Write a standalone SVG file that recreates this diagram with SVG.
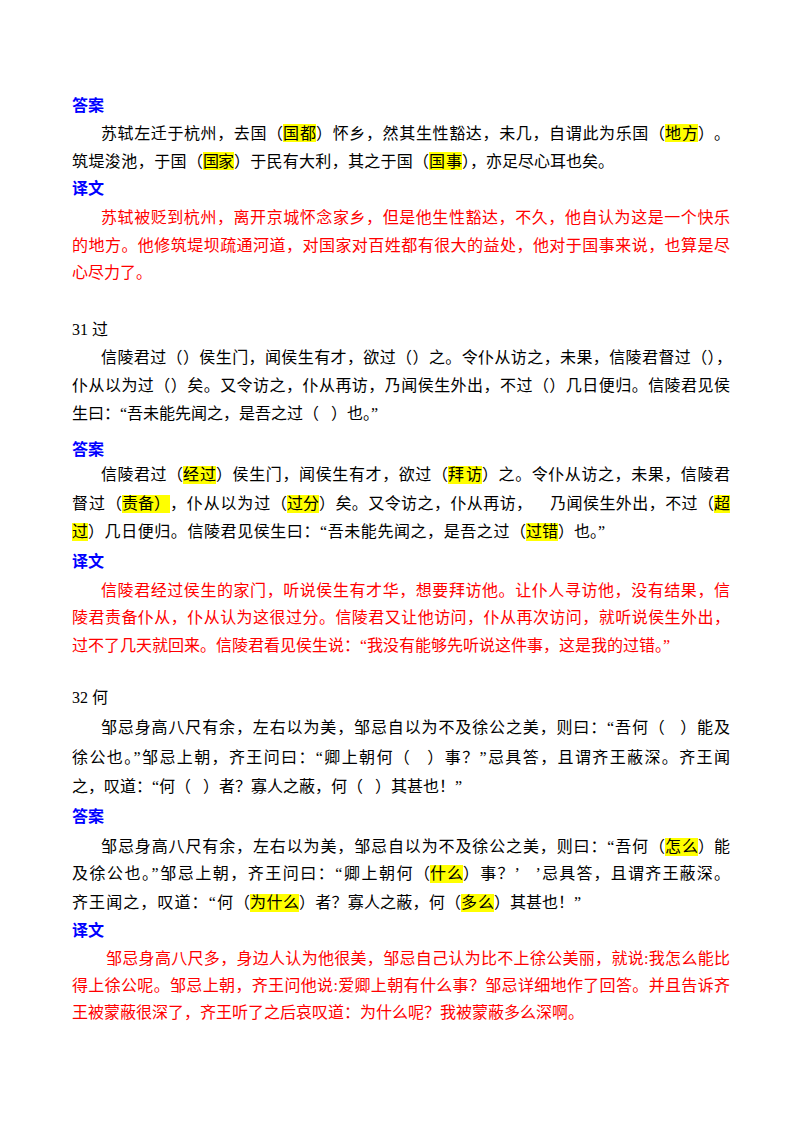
<svg xmlns="http://www.w3.org/2000/svg" width="800" height="1132" viewBox="0 0 800 1132">
<style>
text{font-family:"Liberation Serif","Noto Sans CJK SC",serif;font-size:16px;white-space:pre}
.k{fill:#000}
.h{fill:#0000ff;font-weight:bold;font-family:"Noto Sans CJK SC",sans-serif}
.r{fill:#ff0000}
.hl{fill:#ffff00}
</style>
<rect width="800" height="1132" fill="#fff"/>
<g id="highlights">
<rect class="hl" x="283" y="124" width="33" height="18"/>
<rect class="hl" x="665" y="124" width="33" height="18"/>
<rect class="hl" x="203" y="152" width="31" height="18"/>
<rect class="hl" x="429" y="152" width="33" height="18"/>
<rect class="hl" x="183" y="466" width="33" height="18"/>
<rect class="hl" x="448" y="466" width="34" height="18"/>
<rect class="hl" x="122" y="495" width="48" height="18"/>
<rect class="hl" x="287" y="495" width="32" height="18"/>
<rect class="hl" x="714" y="495" width="16" height="18"/>
<rect class="hl" x="72" y="523" width="16" height="18"/>
<rect class="hl" x="526" y="523" width="32" height="18"/>
<rect class="hl" x="665" y="838" width="33" height="18"/>
<rect class="hl" x="430" y="865" width="33" height="18"/>
<rect class="hl" x="250" y="894" width="49" height="18"/>
<rect class="hl" x="461" y="894" width="33" height="18"/>
</g>
<g id="s30">
<text class="h" x="72" y="111">答案</text>
<text class="k" x="101" y="139" textLength="182" lengthAdjust="spacing">苏轼左迁于杭州，去国（</text>
<text class="k" x="283" y="139" textLength="33" lengthAdjust="spacing">国都</text>
<text class="k" x="316" y="139" textLength="349" lengthAdjust="spacing">）怀乡，然其生性豁达，未几，自谓此为乐国（</text>
<text class="k" x="665" y="139" textLength="33" lengthAdjust="spacing">地方</text>
<text class="k" x="698" y="139" textLength="32" lengthAdjust="spacing">）。</text>
<text class="k" x="72" y="167" textLength="131" lengthAdjust="spacing">筑堤浚池，于国（</text>
<text class="k" x="203" y="167" textLength="31" lengthAdjust="spacing">国家</text>
<text class="k" x="234" y="167" textLength="195" lengthAdjust="spacing">）于民有大利，其之于国（</text>
<text class="k" x="429" y="167" textLength="33" lengthAdjust="spacing">国事</text>
<text class="k" x="462" y="167">），亦足尽心耳也矣。</text>
<text class="h" x="72" y="194">译文</text>
<text class="r" x="101" y="223" textLength="629" lengthAdjust="spacing">苏轼被贬到杭州，离开京城怀念家乡，但是他生性豁达，不久，他自认为这是一个快乐</text>
<text class="r" x="72" y="251" textLength="658" lengthAdjust="spacing">的地方。他修筑堤坝疏通河道，对国家对百姓都有很大的益处，他对于国事来说，也算是尽</text>
<text class="r" x="72" y="278">心尽力了。</text>
</g>
<g id="s31">
<text class="k" x="72" y="335">31 过</text>
<text class="k" x="101" y="363" textLength="631" lengthAdjust="spacing">信陵君过（）侯生门，闻侯生有才，欲过（）之。令仆从访之，未果，信陵君督过（），</text>
<text class="k" x="72" y="391" textLength="658" lengthAdjust="spacing">仆从以为过（）矣。又令访之，仆从再访，乃闻侯生外出，不过（）几日便归。信陵君见侯</text>
<text class="k" x="72" y="419">生曰：“吾未能先闻之，是吾之过（   ）也。”</text>
<text class="h" x="72" y="455">答案</text>
<text class="k" x="101" y="480" textLength="82" lengthAdjust="spacing">信陵君过（</text>
<text class="k" x="183" y="480" textLength="33" lengthAdjust="spacing">经过</text>
<text class="k" x="216" y="480" textLength="232" lengthAdjust="spacing">）侯生门，闻侯生有才，欲过（</text>
<text class="k" x="448" y="480" textLength="34" lengthAdjust="spacing">拜访</text>
<text class="k" x="482" y="480" textLength="248" lengthAdjust="spacing">）之。令仆从访之，未果，信陵君</text>
<text class="k" x="72" y="509" textLength="50" lengthAdjust="spacing">督过（</text>
<text class="k" x="122" y="509" textLength="48" lengthAdjust="spacing">责备）</text>
<text class="k" x="170" y="509" textLength="117" lengthAdjust="spacing">，仆从以为过（</text>
<text class="k" x="287" y="509" textLength="32" lengthAdjust="spacing">过分</text>
<text class="k" x="319" y="509" textLength="395" lengthAdjust="spacing">）矣。又令访之，仆从再访，    乃闻侯生外出，不过（</text>
<text class="k" x="714" y="509">超</text>
<text class="k" x="72" y="537">过</text>
<text class="k" x="88" y="537" textLength="438" lengthAdjust="spacing">）几日便归。信陵君见侯生曰：“吾未能先闻之，是吾之过（</text>
<text class="k" x="526" y="537" textLength="32" lengthAdjust="spacing">过错</text>
<text class="k" x="558" y="537">）也。”</text>
<text class="h" x="72" y="567">译文</text>
<text class="r" x="101" y="596" textLength="629" lengthAdjust="spacing">信陵君经过侯生的家门，听说侯生有才华，想要拜访他。让仆人寻访他，没有结果，信</text>
<text class="r" x="72" y="623" textLength="658" lengthAdjust="spacing">陵君责备仆从，仆从认为这很过分。信陵君又让他访问，仆从再次访问，就听说侯生外出，</text>
<text class="r" x="72" y="651">过不了几天就回来。信陵君看见侯生说：“我没有能够先听说这件事，这是我的过错。”</text>
</g>
<g id="s32">
<text class="k" x="72" y="703">32 何</text>
<text class="k" x="101" y="733" textLength="629" lengthAdjust="spacing">邹忌身高八尺有余，左右以为美，邹忌自以为不及徐公之美，则曰：“吾何（   ）能及</text>
<text class="k" x="72" y="763" textLength="658" lengthAdjust="spacing">徐公也。”邹忌上朝，齐王问曰：“卿上朝何（   ）事？”忌具答，且谓齐王蔽深。齐王闻</text>
<text class="k" x="72" y="792">之，叹道：“何（   ）者？寡人之蔽，何（   ）其甚也！”</text>
<text class="h" x="72" y="822">答案</text>
<text class="k" x="101" y="852" textLength="564" lengthAdjust="spacing">邹忌身高八尺有余，左右以为美，邹忌自以为不及徐公之美，则曰：“吾何（</text>
<text class="k" x="665" y="852" textLength="33" lengthAdjust="spacing">怎么</text>
<text class="k" x="698" y="852" textLength="32" lengthAdjust="spacing">）能</text>
<text class="k" x="72" y="879" textLength="358" lengthAdjust="spacing">及徐公也。”邹忌上朝，齐王问曰：“卿上朝何（</text>
<text class="k" x="430" y="879" textLength="33" lengthAdjust="spacing">什么</text>
<text class="k" x="463" y="879" textLength="267" lengthAdjust="spacing">）事？’   ’忌具答，且谓齐王蔽深。</text>
<text class="k" x="72" y="908" textLength="178" lengthAdjust="spacing">齐王闻之，叹道：“何（</text>
<text class="k" x="250" y="908" textLength="49" lengthAdjust="spacing">为什么</text>
<text class="k" x="299" y="908" textLength="162" lengthAdjust="spacing">）者？寡人之蔽，何（</text>
<text class="k" x="461" y="908" textLength="33" lengthAdjust="spacing">多么</text>
<text class="k" x="494" y="908">）其甚也！”</text>
<text class="h" x="72" y="936">译文</text>
<text class="r" x="106" y="964" textLength="624" lengthAdjust="spacing">邹忌身高八尺多，身边人认为他很美，邹忌自己认为比不上徐公美丽，就说:我怎么能比</text>
<text class="r" x="72" y="991" textLength="658" lengthAdjust="spacing">得上徐公呢。邹忌上朝，齐王问他说:爱卿上朝有什么事？邹忌详细地作了回答。并且告诉齐</text>
<text class="r" x="72" y="1018">王被蒙蔽很深了，齐王听了之后哀叹道：为什么呢？我被蒙蔽多么深啊。</text>
</g>
</svg>
